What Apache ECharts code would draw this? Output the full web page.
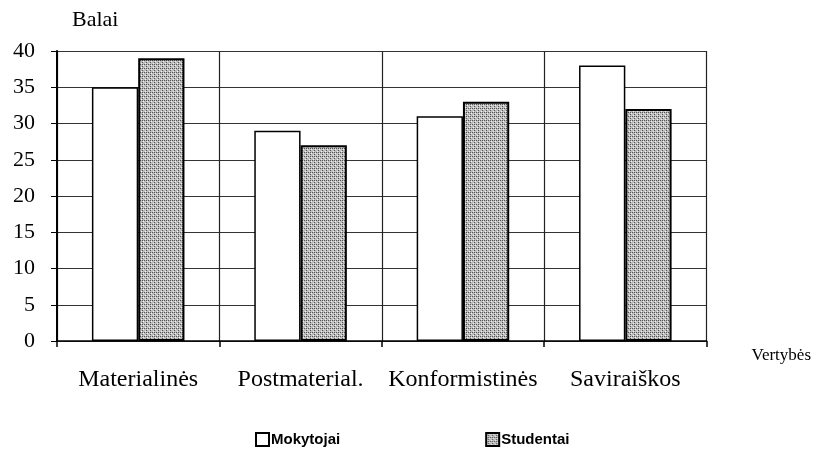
<!DOCTYPE html>
<html>
<head>
<meta charset="utf-8">
<script src="https://cdn.jsdelivr.net/npm/echarts@6/dist/echarts.min.js"></script>
<style>
  html, body { margin: 0; padding: 0; background: #fff; }
  #main { width: 814px; height: 458px; }
</style>
</head>
<body>
<div id="main"></div>
<script>
// vertybių kategorijos ir balai
var categories = ['Materialinės', 'Postmaterial.', 'Konformistinės', 'Saviraiškos'];
var mokytojai = [35, 29, 31, 38];
var studentai = [39, 27, 33, 32];
var yTicks = [0, 5, 10, 15, 20, 25, 30, 35, 40];

// pilkas taškuotas raštas studentų stulpeliams
function makePattern() {
  var c = document.createElement('canvas');
  c.width = 4; c.height = 4;
  var ctx = c.getContext('2d');
  ctx.fillStyle = '#bdbdbd';
  ctx.fillRect(0, 0, 4, 4);
  ctx.fillStyle = '#555';
  ctx.fillRect(0, 0, 1, 1);
  ctx.fillRect(2, 2, 1, 1);
  ctx.fillRect(2, 0, 1, 1);
  ctx.fillStyle = '#f0f0f0';
  ctx.fillRect(1, 3, 1, 1);
  ctx.fillRect(3, 1, 1, 1);
  return c;
}

var chart = echarts.init(document.getElementById('main'));
var serif = 'Liberation Serif';

var option = {
  animation: false,
  backgroundColor: '#fff',
  grid: { left: 57, right: 107, top: 51, bottom: 117 },
  legend: {
    bottom: 6,
    left: 250,
    itemGap: 145,
    itemWidth: 13,
    itemHeight: 13,
    icon: 'rect',
    textStyle: { fontFamily: 'Liberation Sans', fontWeight: 'bold', fontSize: 15, color: '#000', padding: [0, 0, 0, -3] },
    data: ['Mokytojai', 'Studentai']
  },
  xAxis: {
    type: 'category',
    data: categories,
    name: 'Vertybės',
    nameLocation: 'end',
    nameGap: 45,
    nameTextStyle: { fontFamily: serif, fontSize: 17, color: '#000', verticalAlign: 'top', padding: [6, 0, 0, 0] },
    axisLine: { lineStyle: { color: '#000', width: 1.5 } },
    axisTick: { show: true, interval: 0, length: 6, lineStyle: { color: '#000', width: 1.5 } },
    axisLabel: { interval: 0, fontFamily: serif, fontSize: 24, color: '#000', margin: 27 },
    splitLine: { show: true, interval: 0, lineStyle: { color: '#222', width: 1.2 } }
  },
  yAxis: {
    type: 'value',
    min: 0,
    max: 40,
    interval: 5,
    name: 'Balai',
    nameLocation: 'end',
    nameGap: 20,
    nameTextStyle: { fontFamily: serif, fontSize: 22, color: '#000', align: 'left', padding: [0, 0, 0, 15] },
    axisLine: { show: true, lineStyle: { color: '#000', width: 2 } },
    axisTick: { show: true, length: 6, lineStyle: { color: '#000' } },
    axisLabel: {
      fontFamily: serif, fontSize: 22, color: '#000', margin: 22,
      formatter: function (v) { return yTicks.indexOf(v) >= 0 ? String(v) : ''; }
    },
    splitLine: { show: true, lineStyle: { color: '#333', width: 1.2 } }
  },
  series: [
    {
      name: 'Mokytojai',
      type: 'bar',
      data: mokytojai,
      barGap: '0%',
      barCategoryGap: '43%',
      itemStyle: { color: '#fff', borderColor: '#000', borderWidth: 1.5 }
    },
    {
      name: 'Studentai',
      type: 'bar',
      data: studentai,
      itemStyle: { color: { image: makePattern(), repeat: 'repeat' }, borderColor: '#000', borderWidth: 2 }
    }
  ]
};

chart.setOption(option);
</script>
</body>
</html>
